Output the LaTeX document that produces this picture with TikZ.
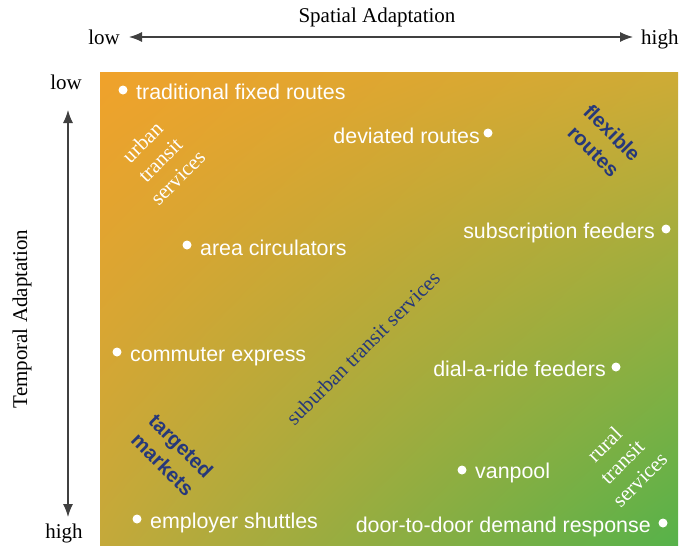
\documentclass[tikz,border=0pt]{standalone}
\usepackage{fontspec}
\setmainfont{Liberation Serif}
\setsansfont{Liberation Sans}
\usetikzlibrary{arrows.meta,shadings}

\definecolor{cornerTL}{RGB}{240,162,43}
\definecolor{cornerTR}{RGB}{206,171,54}
\definecolor{cornerBL}{RGB}{196,169,58}
\definecolor{cornerBR}{RGB}{86,178,74}
\definecolor{zoneblue}{RGB}{38,56,122}

\tikzset{
	axistext/.style={font=\fontsize{21}{25}\selectfont, inner sep=0pt},
	svc/.style={font=\sffamily\fontsize{21.4}{25}\selectfont, text=white, inner sep=0pt},
	svcdot/.style={circle, fill=white, inner sep=0pt, minimum size=9pt},
	zonetag/.style={font=\sffamily\bfseries\fontsize{20.5}{26}\selectfont, text=zoneblue, align=center, inner sep=0pt, rotate=-45},
	areatag/.style={font=\fontsize{21}{25}\selectfont, align=center, inner sep=0pt, rotate=45},
	axisline/.style={draw=black!75, line width=1.2pt, {Latex[length=13pt,width=10pt]}-{Latex[length=13pt,width=10pt]}}
}

\begin{document}
\begin{tikzpicture}[x=1pt,y=-1pt]
		\useasboundingbox (0,0) rectangle (680,546);

		% Shaded field, orange at top left to green at bottom right
		\shade[upper left=cornerTL, upper right=cornerTR, lower left=cornerBL, lower right=cornerBR] (100,72) rectangle (678,546);

		% Horizontal axis: spatial adaptation
		\node[axistext, anchor=base] (spatial) at (377,23) {Spatial Adaptation};
		\node[axistext, anchor=base east] (xlow) at (120,44) {low};
		\node[axistext, anchor=base west] (xhigh) at (641,44) {high};
		\coordinate (xleft) at (129,37);
		\coordinate (xright) at (633,37);
		\draw[axisline] (xleft) -- (xright);

		% Vertical axis: temporal adaptation
		\node[axistext, anchor=base] (ylow) at (66,89) {low};
		\node[axistext, anchor=base] (yhigh) at (64,538) {high};
		\node[axistext, rotate=90] (temporal) at (22,319) {Temporal Adaptation};
		\coordinate (ytop) at (68,110);
		\coordinate (ybottom) at (68,517);
		\draw[axisline] (ytop) -- (ybottom);

		% Service types, dots on the left of their names
		\node[svcdot] (tfrdot) at (123,90) {};
		\node[svc, anchor=base west] (tfr) at (136,99) {traditional fixed routes};
		\node[svcdot] (acdot) at (187,245) {};
		\node[svc, anchor=base west] (ac) at (200,255) {area circulators};
		\node[svcdot] (cedot) at (117,352) {};
		\node[svc, anchor=base west] (ce) at (130,361) {commuter express};
		\node[svcdot] (vpdot) at (462,470) {};
		\node[svc, anchor=base west] (vp) at (475,478) {vanpool};
		\node[svcdot] (esdot) at (137,519) {};
		\node[svc, anchor=base west] (es) at (150,528) {employer shuttles};

		% Service types, dots on the right of their names
		\node[svcdot] (drdot) at (488,133) {};
		\node[svc, anchor=base east] (dr) at (480,143) {deviated routes};
		\node[svcdot] (sfdot) at (666,229) {};
		\node[svc, anchor=base east] (sf) at (655,238) {subscription feeders};
		\node[svcdot] (darfdot) at (616,367) {};
		\node[svc, anchor=base east] (darf) at (606,376) {dial-a-ride feeders};
		\node[svcdot] (ddrdot) at (663,523) {};
		\node[svc, anchor=base east] (ddr) at (651,532) {door-to-door demand response};

		% Bold tags along the falling diagonal
		\node[zonetag] (flexible) at (603,142) {flexible\\routes};
		\node[zonetag] (targeted) at (172,455) {targeted\\markets};

		% Serif tags along the rising diagonal
		\node[areatag, text=white] (urban) at (160,160) {urban\\transit\\services};
		\node[areatag, text=zoneblue] (suburban) at (363,348) {suburban transit services};
		\node[areatag, text=white] (rural) at (622,462) {rural\\transit\\services};
\end{tikzpicture}
\end{document}
